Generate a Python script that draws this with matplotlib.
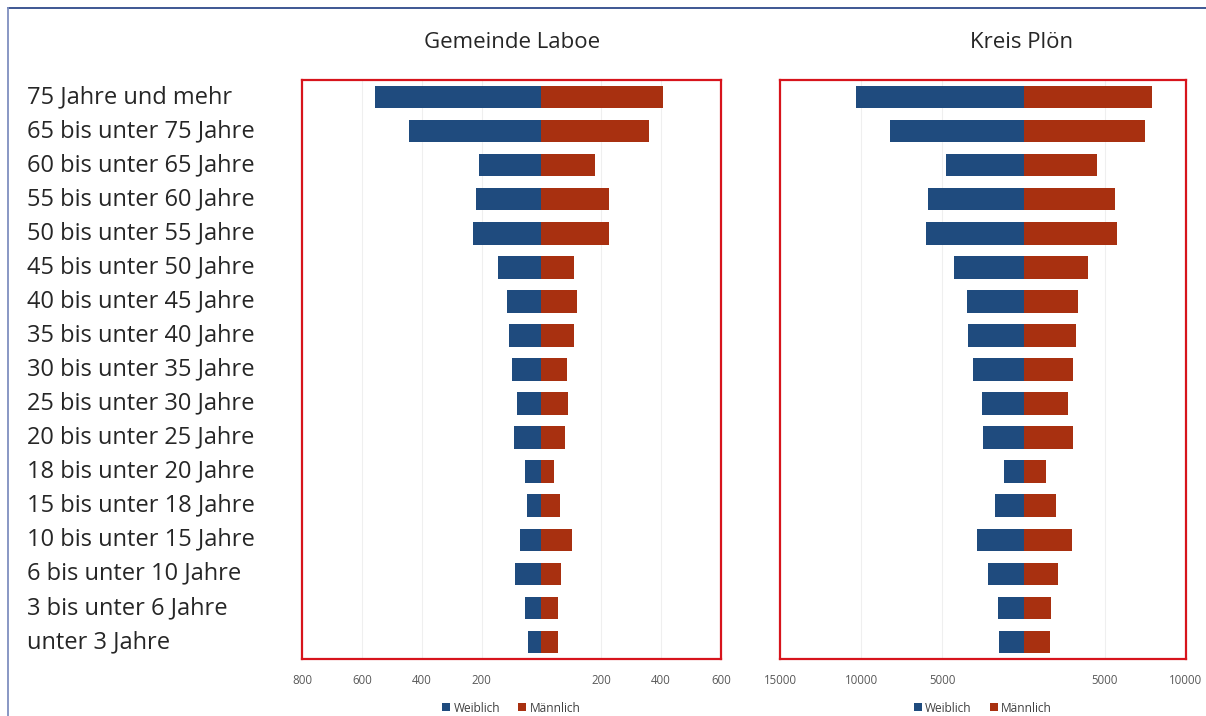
import numpy as np
import matplotlib
matplotlib.use("Agg")
from matplotlib import pyplot as plt
from matplotlib import transforms
from matplotlib.ticker import FuncFormatter
from matplotlib.lines import Line2D

plt.rcParams['font.family'] = ['Open Sans', 'DejaVu Sans']

# age groups, top to bottom
categories = ["75 Jahre und mehr", "65 bis unter 75 Jahre", "60 bis unter 65 Jahre",
              "55 bis unter 60 Jahre", "50 bis unter 55 Jahre", "45 bis unter 50 Jahre",
              "40 bis unter 45 Jahre", "35 bis unter 40 Jahre", "30 bis unter 35 Jahre",
              "25 bis unter 30 Jahre", "20 bis unter 25 Jahre", "18 bis unter 20 Jahre",
              "15 bis unter 18 Jahre", "10 bis unter 15 Jahre", "6 bis unter 10 Jahre",
              "3 bis unter 6 Jahre", "unter 3 Jahre"]

laboe_w = [557, 442, 207, 217, 230, 146, 114, 108, 97, 83, 90, 54, 47, 72, 87, 56, 45]
laboe_m = [407, 360, 179, 227, 227, 110, 119, 108, 85, 88, 78, 42, 61, 101, 67, 56, 56]

ploen_w = [10340, 8210, 4780, 5870, 6030, 4290, 3470, 3430, 3120, 2570, 2500, 1230,
           1770, 2870, 2220, 1600, 1520]
ploen_m = [7880, 7450, 4540, 5620, 5770, 3980, 3340, 3200, 3040, 2750, 3040, 1370,
           1990, 3000, 2140, 1660, 1600]

laboe_ticks = [-800, -600, -400, -200, 200, 400, 600]
ploen_ticks = [-15000, -10000, -5000, 5000, 10000]

c_w = '#1F4B7E'
c_m = '#A83010'
c_box = '#D7141C'

W, H = 1206, 716
fig = plt.figure(figsize=(W / 100, H / 100), dpi=100)

def px_axes(x0, y0, x1, y1):
    return fig.add_axes([x0 / W, 1 - y1 / H, (x1 - x0) / W, (y1 - y0) / H])

ax1 = px_axes(302, 80, 721, 659)
ax2 = px_axes(780, 80, 1186, 659)

y = np.arange(len(categories))

def pyramid(ax, w, m, ticks, lims):
    ax.barh(y, -np.array(w), height=0.66, color=c_w, label='Weiblich', zorder=3)
    ax.barh(y, m, height=0.66, color=c_m, label='Männlich', zorder=3)
    ax.set_ylim(len(categories) - 0.5, -0.5)
    ax.set_xlim(*lims)
    ax.set_yticks([])
    ax.set_xticks(ticks)
    ax.xaxis.set_major_formatter(FuncFormatter(lambda v, p: f"{abs(int(v))}"))
    ax.tick_params(axis='x', length=0, pad=11, labelsize=8.3, labelcolor='#595959')
    for t in ticks[1:-1]:
        ax.axvline(t, color='#EFEFEF', lw=0.8, zorder=1)
    for s in ax.spines.values():
        s.set_color(c_box)
        s.set_linewidth(1.6)
    ax.legend(loc='upper center', bbox_to_anchor=(0.5, -0.055), ncol=2, frameon=False,
              fontsize=8.6, handlelength=0.65, handleheight=0.65, handletextpad=0.3,
              columnspacing=1.5, labelcolor='#404040')

pyramid(ax1, laboe_w, laboe_m, laboe_ticks, (-800, 600))
pyramid(ax2, ploen_w, ploen_m, ploen_ticks, (-15000, 10000))

# category labels, left aligned at the far left
trans = transforms.blended_transform_factory(fig.transFigure, ax1.transData)
for i, lab in enumerate(categories):
    fig.text(27 / W, i, lab, transform=trans, ha='left', va='center',
             fontsize=17, color='#262626')

fig.text(512 / W, 1 - 43 / H, "Gemeinde Laboe", ha='center', va='center',
         fontsize=16, color='#262626')
fig.text(1022 / W, 1 - 43 / H, "Kreis Plön", ha='center', va='center',
         fontsize=16, color='#262626')

# outer frame
fig.add_artist(Line2D([8 / W, 1], [1 - 8 / H, 1 - 8 / H], transform=fig.transFigure,
                      color='#2F4A8A', lw=1.3))
fig.add_artist(Line2D([8 / W, 8 / W], [0, 1 - 8 / H], transform=fig.transFigure,
                      color='#7F8FBF', lw=1.3))

plt.savefig('out.png', dpi=100)
plt.close()
